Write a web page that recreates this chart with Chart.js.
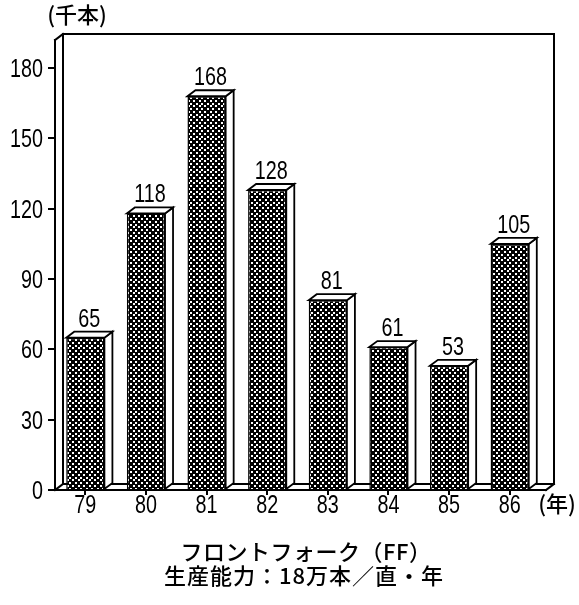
<!DOCTYPE html>
<html>
<head>
<meta charset="utf-8">
<script src="https://cdn.jsdelivr.net/npm/chart.js@4/dist/chart.umd.min.js"></script>
<style>
  html, body { margin: 0; padding: 0; background: #fff; }
  #wrap { width: 579px; height: 605px; }
</style>
</head>
<body>
<div id="wrap"><canvas id="c" width="579" height="605"></canvas></div>
<script>
// Front fork output by year (thousand units)
const years = ['79', '80', '81', '82', '83', '84', '85', '86'];
const output = [65, 118, 168, 128, 81, 61, 53, 105];
const yTicks = [0, 30, 60, 90, 120, 150, 180];
const yMax = 192;
const yUnit = '(千本)';
const xUnit = '(年)';
const titleLines = ['フロントフォーク（FF）', '生産能力：18万本／直・年'];

const NUM_FONT = '26px "Liberation Sans", Arial, sans-serif';
const NUM_SQUEEZE = 0.76;          // narrow figures
const JP_FONT = '"Noto Sans CJK JP", "Noto Sans CJK SC", sans-serif';

// depth offset used for the pseudo-3D faces
const DX = 8, DY = -6;

// black fill with a staggered grid of white dots
function dotPattern() {
  const t = document.createElement('canvas');
  t.width = 11; t.height = 11;
  const g = t.getContext('2d');
  g.fillStyle = '#000';
  g.fillRect(0, 0, 11, 11);
  g.fillStyle = '#fff';
  const pts = [[1, 1], [6, 1], [3, 4], [9, 4], [1, 6], [6, 6], [3, 9], [9, 9]];
  for (const [x, y] of pts) g.fillRect(x, y, 2, 2);
  return g.createPattern(t, 'repeat');
}

function poly(ctx, pts, fill) {
  ctx.beginPath();
  ctx.moveTo(pts[0][0], pts[0][1]);
  for (let i = 1; i < pts.length; i++) ctx.lineTo(pts[i][0], pts[i][1]);
  ctx.closePath();
  if (fill) { ctx.fillStyle = fill; ctx.fill(); }
  ctx.stroke();
}

function line(ctx, x1, y1, x2, y2) {
  ctx.beginPath(); ctx.moveTo(x1, y1); ctx.lineTo(x2, y2); ctx.stroke();
}

// condensed numerals: horizontally squeezed Liberation Sans
function narrowText(ctx, text, x, y, align) {
  ctx.save();
  ctx.translate(x, y);
  ctx.scale(NUM_SQUEEZE, 1);
  ctx.font = NUM_FONT;
  ctx.fillStyle = '#000';
  ctx.textAlign = align;
  ctx.textBaseline = 'alphabetic';
  ctx.fillText(text, 0, 0);
  ctx.restore();
}

const box3d = {
  id: 'box3d',
  beforeDatasetsDraw(chart) {
    const { ctx, chartArea: { left: L, right: R, top: T, bottom: B } } = chart;
    const Rw = R + 6;
    ctx.save();
    ctx.strokeStyle = '#000';
    ctx.lineWidth = 2;
    ctx.lineCap = 'square';
    // back walls
    line(ctx, L, T, L + DX, T + DY);
    line(ctx, L + DX, T + DY, L + DX, B + DY);
    line(ctx, L + DX, T + DY, Rw + DX, T + DY);
    line(ctx, Rw + DX, T + DY, Rw + DX, B + DY);
    // floor
    line(ctx, L + DX, B + DY, Rw + DX, B + DY);
    line(ctx, L, B, Rw, B);
    line(ctx, L, B, L + DX, B + DY);
    line(ctx, Rw, B, Rw + DX, B + DY);
    ctx.restore();
  },
  afterDatasetsDraw(chart) {
    const { ctx } = chart;
    const meta = chart.getDatasetMeta(0);
    ctx.save();
    ctx.strokeStyle = '#000';
    ctx.lineWidth = 1.8;
    ctx.lineJoin = 'miter';
    meta.data.forEach((bar, i) => {
      const { x, y, base, width } = bar.getProps(['x', 'y', 'base', 'width'], true);
      const x1 = x - width / 2, x2 = x + width / 2;
      // side face
      poly(ctx, [[x2, y], [x2 + DX, y + DY], [x2 + DX, base + DY], [x2, base]], '#fff');
      // top face
      poly(ctx, [[x1, y], [x1 + DX, y + DY], [x2 + DX, y + DY], [x2, y]], '#fff');
      // value label
      narrowText(ctx, String(output[i]), x + DX / 2, y + DY - 5, 'center');
    });
    ctx.restore();
  },
  afterDraw(chart) {
    const { ctx, scales: { x: xs, y: ys }, chartArea: { bottom: B } } = chart;
    // axis figures placed on the scales' tick positions
    ys.ticks.forEach(t => narrowText(ctx, String(t.value), 43, ys.getPixelForValue(t.value) + 9, 'right'));
    years.forEach((lab, i) => narrowText(ctx, lab, xs.getPixelForValue(i), B + 23, 'center'));

    ctx.save();
    ctx.fillStyle = '#000';
    ctx.textAlign = 'center';
    ctx.textBaseline = 'middle';
    ctx.font = '500 22px ' + JP_FONT;
    ctx.fillText(yUnit, 77, 15);
    ctx.fillText(xUnit, 557, 504);
    ctx.letterSpacing = '0.5px';
    ctx.fillText(titleLines[0], 306, 552);
    ctx.letterSpacing = '1px';
    ctx.fillText(titleLines[1], 304, 576);
    ctx.restore();
  }
};

new Chart(document.getElementById('c'), {
  type: 'bar',
  data: {
    labels: years,
    datasets: [{
      data: output,
      backgroundColor: dotPattern(),
      borderColor: '#000',
      borderWidth: 1.5,
      barPercentage: 0.63,
      categoryPercentage: 1.0
    }]
  },
  options: {
    responsive: false,
    animation: false,
    devicePixelRatio: 1,
    layout: { padding: { left: 0, right: 39, top: 40, bottom: 80 } },
    plugins: { legend: { display: false }, tooltip: { enabled: false }, title: { display: false } },
    scales: {
      x: {
        afterFit(s) { s.height = 35; },
        grid: { display: true, drawOnChartArea: false, drawTicks: true, tickLength: 5, offset: false, color: '#000', lineWidth: 2 },
        border: { display: true, color: '#000', width: 2 },
        ticks: { display: false }
      },
      y: {
        min: 0,
        max: yMax,
        afterFit(s) { s.width = 55; },
        afterBuildTicks(s) { s.ticks = yTicks.map(v => ({ value: v })); },
        grid: { display: true, drawOnChartArea: false, drawTicks: true, tickLength: 7, color: '#000', lineWidth: 2 },
        border: { display: true, color: '#000', width: 2 },
        ticks: { display: false }
      }
    }
  },
  plugins: [box3d]
});
</script>
</body>
</html>
